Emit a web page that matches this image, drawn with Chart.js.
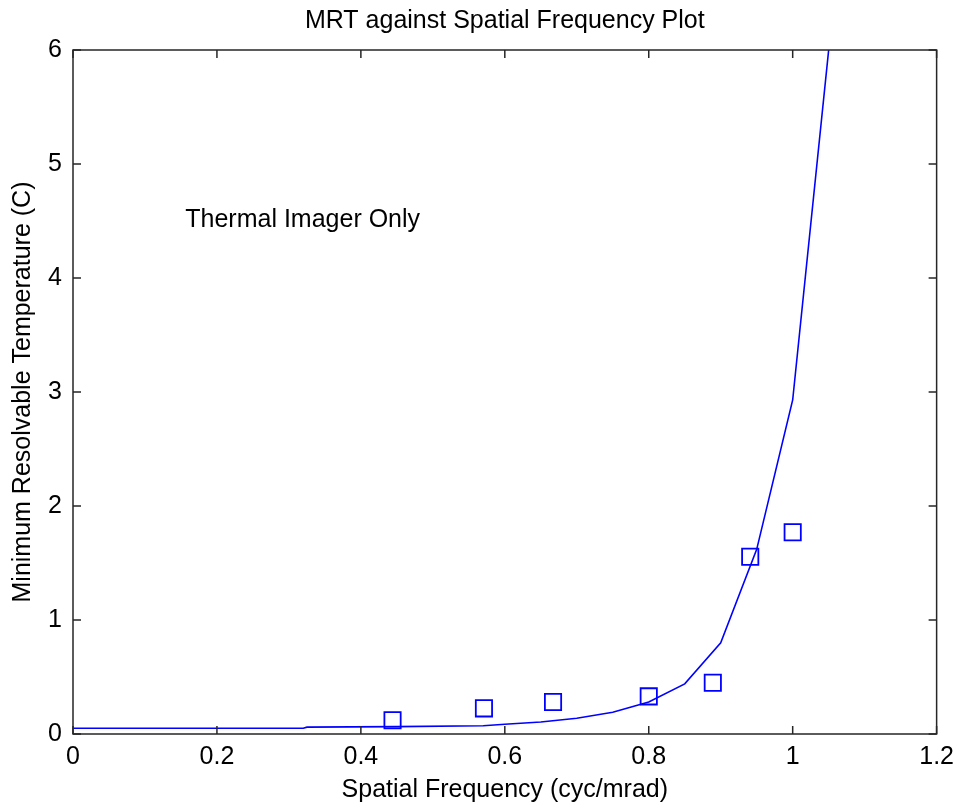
<!DOCTYPE html>
<html>
<head>
<meta charset="utf-8">
<script src="https://cdn.jsdelivr.net/npm/chart.js@4/dist/chart.umd.min.js"></script>
<style>
  html, body { margin: 0; padding: 0; background: #ffffff; }
  #wrap { width: 962px; height: 810px; }
</style>
</head>
<body>
<div id="wrap"><canvas id="c" width="962" height="810"></canvas></div>
<script>
// ---- data ----
const chartTitle = 'MRT against Spatial Frequency Plot';
const xAxisLabel = 'Spatial Frequency (cyc/mrad)';
const yAxisLabel = 'Minimum Resolvable Temperature (C)';
const annotationText = 'Thermal Imager Only';
const annotationX = 0.156;
const annotationY = 4.51;

// measured points (square markers)
const measuredFreq = [0.444, 0.571, 0.667, 0.8, 0.889, 0.941, 1.0];
const measuredMRT  = [0.12, 0.225, 0.28, 0.33, 0.45, 1.555, 1.77];

// model curve (solid line)
const modelFreq = [0, 0.32, 0.325, 0.45, 0.57, 0.6, 0.65, 0.7, 0.75, 0.8, 0.85, 0.9, 0.95, 1.0, 1.05];
const modelMRT  = [0.05, 0.05, 0.06, 0.065, 0.073, 0.085, 0.105, 0.138, 0.19, 0.28, 0.44, 0.80, 1.62, 2.93, 6.0];

// axes
const xTicks = [0, 0.2, 0.4, 0.6, 0.8, 1, 1.2];
const yTicks = [0, 1, 2, 3, 4, 5, 6];

const FONT = '"Liberation Sans", Arial, sans-serif';
const BLUE = '#0000ff';
const AXIS = '#262626';

const boxPlugin = {
  id: 'matlabBox',
  afterDraw(chart) {
    const {ctx, chartArea: a, scales} = chart;
    ctx.save();
    ctx.strokeStyle = AXIS;
    ctx.lineWidth = 1.5;
    ctx.strokeRect(a.left, a.top, a.right - a.left, a.bottom - a.top);
    const tl = 8;
    ctx.beginPath();
    xTicks.forEach(v => {
      const px = scales.x.getPixelForValue(v);
      ctx.moveTo(px, a.bottom); ctx.lineTo(px, a.bottom - tl);
      ctx.moveTo(px, a.top); ctx.lineTo(px, a.top + tl);
    });
    yTicks.forEach(v => {
      const py = scales.y.getPixelForValue(v);
      ctx.moveTo(a.left, py); ctx.lineTo(a.left + tl, py);
      ctx.moveTo(a.right, py); ctx.lineTo(a.right - tl, py);
    });
    ctx.stroke();
    // annotation text at data coordinates
    ctx.fillStyle = '#000';
    ctx.font = '25px ' + FONT;
    ctx.textAlign = 'left';
    ctx.textBaseline = 'middle';
    ctx.fillText(annotationText, scales.x.getPixelForValue(annotationX), scales.y.getPixelForValue(annotationY));
    ctx.restore();
  }
};

new Chart(document.getElementById('c'), {
  type: 'line',
  data: {
    datasets: [
      {
        type: 'line',
        label: 'Model',
        data: modelFreq.map((x, i) => ({x, y: modelMRT[i]})),
        borderColor: BLUE,
        borderWidth: 1.6,
        pointRadius: 0,
        tension: 0,
        fill: false
      },
      {
        type: 'scatter',
        label: 'Measured',
        data: measuredFreq.map((x, i) => ({x, y: measuredMRT[i]})),
        pointStyle: 'rect',
        pointRadius: 11.5,
        pointBorderWidth: 1.8,
        borderColor: BLUE,
        backgroundColor: 'rgba(0,0,0,0)',
        showLine: false
      }
    ]
  },
  options: {
    responsive: false,
    animation: false,
    devicePixelRatio: 1,
    layout: { padding: { top: 0, right: 23, left: 0, bottom: 0 } },
    plugins: {
      legend: { display: false },
      tooltip: { enabled: false },
      title: {
        display: true,
        text: chartTitle,
        fullSize: false,
        color: '#000',
        font: { family: FONT, size: 25, weight: 'normal' },
        padding: { top: 6, bottom: 14 }
      }
    },
    scales: {
      x: {
        type: 'linear',
        position: 'bottom',
        min: 0, max: 1.2,
        afterBuildTicks: s => { s.ticks = xTicks.map(v => ({value: v})); },
        afterFit: s => { s.height = 76; },
        grid: { display: false, drawTicks: false },
        border: { display: false },
        ticks: {
          color: '#000',
          padding: 8,
          maxRotation: 0,
          font: { family: FONT, size: 25 },
          callback: v => String(Math.round(v * 10) / 10)
        },
        title: {
          display: true,
          text: xAxisLabel,
          color: '#000',
          font: { family: FONT, size: 25 },
          padding: { top: 0, bottom: 5 }
        }
      },
      y: {
        type: 'linear',
        min: 0, max: 6,
        afterBuildTicks: s => { s.ticks = yTicks.map(v => ({value: v})); },
        afterFit: s => { s.width = 73; },
        grid: { display: false, drawTicks: false },
        border: { display: false },
        ticks: {
          color: '#000',
          padding: 11,
          font: { family: FONT, size: 25 },
          callback: v => String(v)
        },
        title: {
          display: true,
          text: yAxisLabel,
          color: '#000',
          font: { family: FONT, size: 25 },
          padding: { top: 8, bottom: 0 }
        }
      }
    }
  },
  plugins: [boxPlugin]
});
</script>
</body>
</html>
